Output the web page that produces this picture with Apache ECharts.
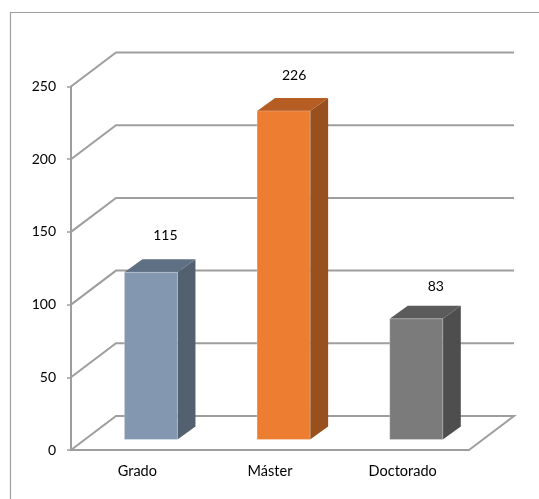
<!DOCTYPE html>
<html>
<head>
<meta charset="utf-8">
<style>html,body{margin:0;padding:0;background:#fff}#chart{width:539px;height:499px}</style>
<script src="https://cdn.jsdelivr.net/npm/echarts@6/dist/echarts.min.js"></script>
</head>
<body>
<div id="chart"></div>
<script>
// Degree levels and how many people hold each one
const categories = ['Grado', 'Máster', 'Doctorado'];
const values = [115, 226, 83];
const yTicks = [0, 50, 100, 150, 200, 250];

// Face shades per bar: front, top, side
const frontColors = ['#8497b0', '#ed7d31', '#7b7b7b'];
const topColors = ['#5f6f84', '#b55d22', '#5b5b5b'];
const sideColors = ['#53606f', '#98501d', '#4e4e4e'];

// Oblique projection: depth of the floor, depth of a bar and where a bar stands on the floor
const FLOOR_DX = 45, FLOOR_DY = -34;
const BAR_DX = 18, BAR_DY = -13;
const STAND_DX = 13.6, STAND_DY = -10.5;
// Small per-label shift of the value text relative to the bar's top
const labelShiftX = [14.5, 10.5, 19.5];
const labelShiftY = [-23.5, -22, -19.5];

const GRID_COLOR = '#9e9e9e';
const FONT = 'Lato';

const chart = echarts.init(document.getElementById('chart'), null, { renderer: 'canvas' });

function renderWall(params, api) {
  const v = api.value(0);
  const cs = params.coordSys;
  const y = api.coord([0, v])[1];
  const xL = cs.x, xR = cs.x + cs.width;
  const pts = [[xL, y], [xL + FLOOR_DX, y + FLOOR_DY], [xR + FLOOR_DX, y + FLOOR_DY]];
  if (v === 0) pts.push([xR, y]);
  return {
    type: 'polyline',
    shape: { points: pts },
    style: { fill: null, stroke: GRID_COLOR, lineWidth: 2 }
  };
}

function renderBar(params, api) {
  const i = api.value(0);
  const top = api.coord([i, api.value(1)]);
  const base = api.coord([i, 0]);
  const w = api.size([1, 0])[0] * 0.4;
  const x0 = top[0] - w / 2 + STAND_DX, x1 = x0 + w;
  const yT = top[1] + STAND_DY, yB = base[1] + STAND_DY;
  const edge = 'rgba(255,255,255,0.25)';
  return {
    type: 'group',
    children: [
      {
        type: 'polygon',
        shape: { points: [[x1, yB], [x1 + BAR_DX, yB + BAR_DY], [x1 + BAR_DX, yT + BAR_DY], [x1, yT]] },
        style: { fill: sideColors[i] }
      },
      {
        type: 'polygon',
        shape: { points: [[x0, yT], [x0 + BAR_DX, yT + BAR_DY], [x1 + BAR_DX, yT + BAR_DY], [x1, yT]] },
        style: { fill: topColors[i] }
      },
      {
        type: 'rect',
        shape: { x: x0, y: yT, width: w, height: yB - yT },
        style: { fill: frontColors[i], stroke: edge, lineWidth: 1 }
      },
      {
        type: 'text',
        style: {
          text: String(api.value(1)),
          x: x0 + w / 2 + labelShiftX[i],
          y: yT + BAR_DY + labelShiftY[i],
          align: 'center',
          verticalAlign: 'middle',
          fill: '#000',
          font: '14px ' + FONT
        }
      }
    ]
  };
}

chart.setOption({
  animation: false,
  backgroundColor: '#fff',
  grid: { left: 71, right: 70, top: 86.5, bottom: 49 },
  xAxis: {
    type: 'category',
    data: categories,
    axisLine: { lineStyle: { color: GRID_COLOR, width: 2 } },
    axisTick: { length: 4, lineStyle: { color: GRID_COLOR, width: 1.5 } },
    axisLabel: { color: '#000', fontFamily: FONT, fontSize: 14.5, margin: 14 }
  },
  yAxis: {
    type: 'value',
    min: 0,
    max: 250,
    interval: 50,
    splitLine: { show: false },
    axisLine: { show: true, lineStyle: { color: GRID_COLOR, width: 2 } },
    axisTick: { show: true, length: 4, lineStyle: { color: GRID_COLOR, width: 1.5 } },
    axisLabel: { color: '#000', fontFamily: FONT, fontSize: 14, margin: 14, padding: [4, 1, 0, 0] }
  },
  graphic: [{
    type: 'rect',
    silent: true,
    shape: { x: 10.5, y: 12.5, width: 700, height: 700 },
    style: { fill: null, stroke: '#a0a0a0', lineWidth: 1.2 }
  }],
  series: [
    {
      type: 'custom',
      coordinateSystem: 'cartesian2d',
      renderItem: renderWall,
      encode: { y: 0 },
      data: yTicks.map(v => [v]),
      z: 1,
      silent: true
    },
    {
      type: 'custom',
      coordinateSystem: 'cartesian2d',
      renderItem: renderBar,
      encode: { x: 0, y: 1 },
      data: values.map((v, i) => [i, v]),
      z: 3,
      silent: true
    }
  ]
});
</script>
</body>
</html>
